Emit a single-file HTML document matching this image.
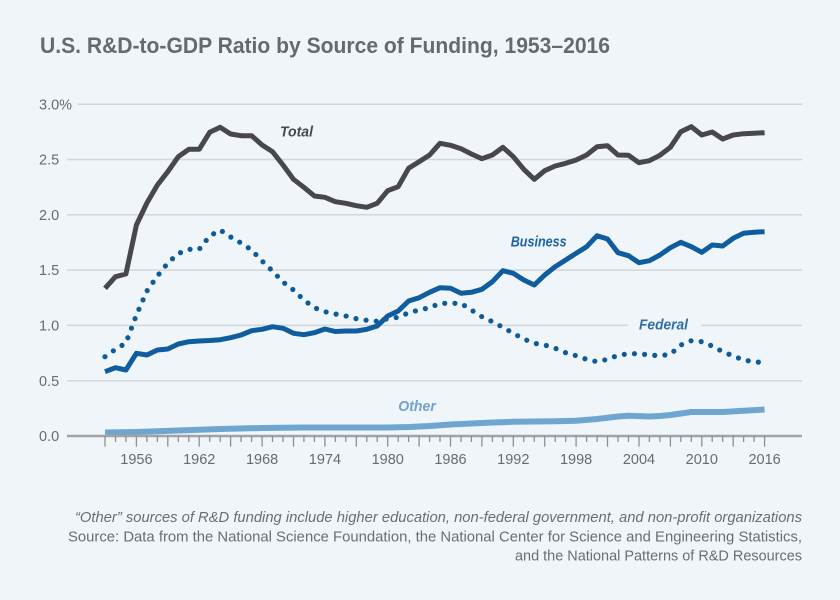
<!DOCTYPE html>
<html>
<head>
<meta charset="utf-8">
<style>
  html, body { margin: 0; padding: 0; }
  body { width: 840px; height: 600px; background: #f0f5f9; overflow: hidden; }
  svg { display: block; }
  .t { font-family: "Liberation Sans", sans-serif; }
</style>
</head>
<body>
<svg width="840" height="600" viewBox="0 0 840 600" xmlns="http://www.w3.org/2000/svg">
  <rect x="0" y="0" width="840" height="600" fill="#f0f5f9"/>

  <!-- Title -->
  <text class="t" x="40" y="53" font-size="22" font-weight="bold" fill="#68696c" textLength="570" lengthAdjust="spacingAndGlyphs">U.S. R&amp;D-to-GDP Ratio by Source of Funding, 1953–2016</text>

  <!-- Gridlines -->
  <g stroke="#d2d5d9" stroke-width="1.5">
    <line x1="78" y1="104.2" x2="802" y2="104.2"/>
    <line x1="67" y1="159.5" x2="802" y2="159.5"/>
    <line x1="67" y1="214.8" x2="802" y2="214.8"/>
    <line x1="67" y1="270.1" x2="802" y2="270.1"/>
    <line x1="67" y1="325.4" x2="628" y2="325.4"/>
    <line x1="701" y1="325.4" x2="802" y2="325.4"/>
    <line x1="67" y1="380.7" x2="802" y2="380.7"/>
  </g>

  <!-- Y labels -->
  <g class="t" font-size="14.5" fill="#6a6a6d">
    <text x="39" y="109.3">3.0%</text>
    <text x="39" y="164.6">2.5</text>
    <text x="39" y="219.9">2.0</text>
    <text x="39" y="275.2">1.5</text>
    <text x="39" y="330.5">1.0</text>
    <text x="39" y="385.8">0.5</text>
    <text x="39" y="441">0.0</text>
  </g>

  <!-- Other series -->
  <polyline fill="none" stroke="#6fa6cf" stroke-width="6" stroke-linejoin="round"
    points="105,432.5 136.4,432 178.3,430.5 220.2,429 262.1,428 303.9,427.5 345.8,427.5 387.7,427.5 408.6,427 429.6,426 450.5,424.5 471.4,423.5 492.4,422.5 513.3,421.8 555.2,421.2 576.1,420.7 597.1,419 618,416.5 628.5,415.7 649.4,416.5 659.9,416 670.4,415 691.3,412 701.8,412 722.7,412 743.6,410.7 764.6,409.5"/>

  <!-- X axis -->
  <line x1="67" y1="436" x2="802" y2="436" stroke="#a3a3a5" stroke-width="2.5"/>
  <g stroke="#8f8f92" stroke-width="1.3">
    <line x1="105" y1="436" x2="105" y2="446.7"/>
    <line x1="136.4" y1="436" x2="136.4" y2="446.7"/>
    <line x1="167.8" y1="436" x2="167.8" y2="446.7"/>
    <line x1="199.2" y1="436" x2="199.2" y2="446.7"/>
    <line x1="230.6" y1="436" x2="230.6" y2="446.7"/>
    <line x1="262.1" y1="436" x2="262.1" y2="446.7"/>
    <line x1="293.5" y1="436" x2="293.5" y2="446.7"/>
    <line x1="324.9" y1="436" x2="324.9" y2="446.7"/>
    <line x1="356.3" y1="436" x2="356.3" y2="446.7"/>
    <line x1="387.7" y1="436" x2="387.7" y2="446.7"/>
    <line x1="419.1" y1="436" x2="419.1" y2="446.7"/>
    <line x1="450.5" y1="436" x2="450.5" y2="446.7"/>
    <line x1="481.9" y1="436" x2="481.9" y2="446.7"/>
    <line x1="513.3" y1="436" x2="513.3" y2="446.7"/>
    <line x1="544.7" y1="436" x2="544.7" y2="446.7"/>
    <line x1="576.1" y1="436" x2="576.1" y2="446.7"/>
    <line x1="607.5" y1="436" x2="607.5" y2="446.7"/>
    <line x1="639" y1="436" x2="639" y2="446.7"/>
    <line x1="670.4" y1="436" x2="670.4" y2="446.7"/>
    <line x1="701.8" y1="436" x2="701.8" y2="446.7"/>
    <line x1="733.2" y1="436" x2="733.2" y2="446.7"/>
    <line x1="764.6" y1="436" x2="764.6" y2="446.7"/>
    <line x1="115.5" y1="436" x2="115.5" y2="442"/><line x1="125.9" y1="436" x2="125.9" y2="442"/>
    <line x1="146.9" y1="436" x2="146.9" y2="442"/><line x1="157.4" y1="436" x2="157.4" y2="442"/>
    <line x1="178.3" y1="436" x2="178.3" y2="442"/><line x1="188.8" y1="436" x2="188.8" y2="442"/>
    <line x1="209.7" y1="436" x2="209.7" y2="442"/><line x1="220.2" y1="436" x2="220.2" y2="442"/>
    <line x1="241.1" y1="436" x2="241.1" y2="442"/><line x1="251.6" y1="436" x2="251.6" y2="442"/>
    <line x1="272.5" y1="436" x2="272.5" y2="442"/><line x1="283" y1="436" x2="283" y2="442"/>
    <line x1="303.9" y1="436" x2="303.9" y2="442"/><line x1="314.4" y1="436" x2="314.4" y2="442"/>
    <line x1="335.3" y1="436" x2="335.3" y2="442"/><line x1="345.8" y1="436" x2="345.8" y2="442"/>
    <line x1="366.8" y1="436" x2="366.8" y2="442"/><line x1="377.2" y1="436" x2="377.2" y2="442"/>
    <line x1="398.2" y1="436" x2="398.2" y2="442"/><line x1="408.6" y1="436" x2="408.6" y2="442"/>
    <line x1="429.6" y1="436" x2="429.6" y2="442"/><line x1="440" y1="436" x2="440" y2="442"/>
    <line x1="461" y1="436" x2="461" y2="442"/><line x1="471.4" y1="436" x2="471.4" y2="442"/>
    <line x1="492.4" y1="436" x2="492.4" y2="442"/><line x1="502.9" y1="436" x2="502.9" y2="442"/>
    <line x1="523.8" y1="436" x2="523.8" y2="442"/><line x1="534.3" y1="436" x2="534.3" y2="442"/>
    <line x1="555.2" y1="436" x2="555.2" y2="442"/><line x1="565.7" y1="436" x2="565.7" y2="442"/>
    <line x1="586.6" y1="436" x2="586.6" y2="442"/><line x1="597.1" y1="436" x2="597.1" y2="442"/>
    <line x1="618" y1="436" x2="618" y2="442"/><line x1="628.5" y1="436" x2="628.5" y2="442"/>
    <line x1="649.4" y1="436" x2="649.4" y2="442"/><line x1="659.9" y1="436" x2="659.9" y2="442"/>
    <line x1="680.8" y1="436" x2="680.8" y2="442"/><line x1="691.3" y1="436" x2="691.3" y2="442"/>
    <line x1="712.2" y1="436" x2="712.2" y2="442"/><line x1="722.7" y1="436" x2="722.7" y2="442"/>
    <line x1="743.6" y1="436" x2="743.6" y2="442"/><line x1="754.1" y1="436" x2="754.1" y2="442"/>
  </g>

  <!-- X labels -->
  <g class="t" font-size="14.5" fill="#6a6a6d" text-anchor="middle">
    <text x="136.4" y="464">1956</text>
    <text x="199.2" y="464">1962</text>
    <text x="262.1" y="464">1968</text>
    <text x="324.9" y="464">1974</text>
    <text x="387.7" y="464">1980</text>
    <text x="450.5" y="464">1986</text>
    <text x="513.3" y="464">1992</text>
    <text x="576.1" y="464">1998</text>
    <text x="639" y="464">2004</text>
    <text x="701.8" y="464">2010</text>
    <text x="764.6" y="464">2016</text>
  </g>

  <!-- Federal (dotted) -->
  <polyline fill="none" stroke="#0c5b9b" stroke-width="5.2" stroke-linecap="round" stroke-linejoin="round" stroke-dasharray="0 10.2"
    points="105,356.7 115.5,349.3 125.9,343 136.4,315 146.9,291 157.4,276 167.8,263 178.3,253.5 188.8,249.3 199.2,249.3 209.7,236 220.2,230 230.6,237 241.1,243 251.6,250 262.1,261 272.5,271 283,282 293.5,290 303.9,300 314.4,307.7 324.9,311.7 335.3,314 345.8,316 356.3,318.7 366.8,320.3 377.2,321.3 387.7,318.7 398.2,317.3 408.6,312.7 419.1,310 429.6,307.7 440,303.3 450.5,303.3 461,303.3 471.4,310 481.9,316.7 492.4,321.7 502.9,327.3 513.3,333.3 523.8,339 534.3,343.3 544.7,345 555.2,348.3 565.7,352.7 576.1,355.7 586.6,359.3 597.1,361.7 607.5,359.3 618,355.3 628.5,353.7 639,353.7 649.4,355 659.9,355.7 670.4,354.3 680.8,345 691.3,340.7 701.8,341.7 712.2,346 722.7,351.7 733.2,356 743.6,360 754.1,361.7 764.6,362.7"/>

  <!-- Business -->
  <polyline fill="none" stroke="#0f5d9e" stroke-width="5" stroke-linejoin="round"
    points="105,371.7 115.5,367.7 125.9,370 136.4,353.3 146.9,355 157.4,350 167.8,349 178.3,344 188.8,341.7 199.2,341 209.7,340.5 220.2,339.7 230.6,337.7 241.1,335 251.6,330.7 262.1,329.3 272.5,326.7 283,328.3 293.5,333.3 303.9,334.7 314.4,332.7 324.9,329 335.3,331.5 345.8,331 356.3,331 366.8,329.3 377.2,326 387.7,316 398.2,311 408.6,301 419.1,297.7 429.6,292.3 440,287.7 450.5,288.3 461,293.3 471.4,292.3 481.9,289.3 492.4,281.7 502.9,270.7 513.3,273.3 523.8,280 534.3,285 544.7,275 555.2,266.7 565.7,260 576.1,253.3 586.6,246.7 597.1,235.7 607.5,239 618,252.7 628.5,255.7 639,262.7 649.4,260.7 659.9,255 670.4,247.7 680.8,242.3 691.3,246.7 701.8,252.3 712.2,245 722.7,246 733.2,238.3 743.6,233.3 754.1,232.3 764.6,231.7"/>

  <!-- Total -->
  <polyline fill="none" stroke="#48484b" stroke-width="5" stroke-linejoin="round"
    points="105,288.3 115.5,276.7 125.9,274 136.4,225 146.9,203 157.4,185 167.8,171.7 178.3,156.7 188.8,149.3 199.2,149.3 209.7,132.3 220.2,127.3 230.6,134 241.1,135.7 251.6,135.7 262.1,145 272.5,151.7 283,165 293.5,179.3 303.9,187.3 314.4,196 324.9,197.3 335.3,201.7 345.8,203.3 356.3,205.7 366.8,207.3 377.2,203.3 387.7,190.7 398.2,186.7 408.6,168.3 419.1,161.7 429.6,155 440,143.3 450.5,145.3 461,148.7 471.4,154 481.9,158.7 492.4,155 502.9,147.3 513.3,156.7 523.8,169.3 534.3,179.3 544.7,170.7 555.2,166 565.7,163.3 576.1,160 586.6,155 597.1,146.7 607.5,145.7 618,155 628.5,155.3 639,162.7 649.4,160.7 659.9,155.3 670.4,147.3 680.8,131.7 691.3,126.7 701.8,135 712.2,132 722.7,139 733.2,135 743.6,133.7 754.1,133.3 764.6,132.7"/>

  <!-- Series labels -->
  <g class="t" font-size="15" font-weight="bold" font-style="italic">
    <text x="280" y="136.7" fill="#4a4a4d" textLength="33" lengthAdjust="spacingAndGlyphs">Total</text>
    <text x="510.7" y="246.7" fill="#1d64a3" textLength="56" lengthAdjust="spacingAndGlyphs">Business</text>
    <text x="639" y="329.3" fill="#2f6fa8" textLength="49" lengthAdjust="spacingAndGlyphs">Federal</text>
    <text x="398.3" y="411" fill="#6fa3cf" textLength="37.5" lengthAdjust="spacingAndGlyphs">Other</text>
  </g>

  <!-- Footnotes -->
  <g class="t" font-size="14.5" fill="#6d6d70" text-anchor="end">
    <text x="802" y="522" font-style="italic" textLength="727" lengthAdjust="spacingAndGlyphs">“Other” sources of R&amp;D funding include higher education, non-federal government, and non-profit organizations</text>
    <text x="802" y="541.5" textLength="734" lengthAdjust="spacingAndGlyphs">Source: Data from the National Science Foundation, the National Center for Science and Engineering Statistics,</text>
    <text x="802" y="560.5" textLength="287" lengthAdjust="spacingAndGlyphs">and the National Patterns of R&amp;D Resources</text>
  </g>
</svg>
</body>
</html>
